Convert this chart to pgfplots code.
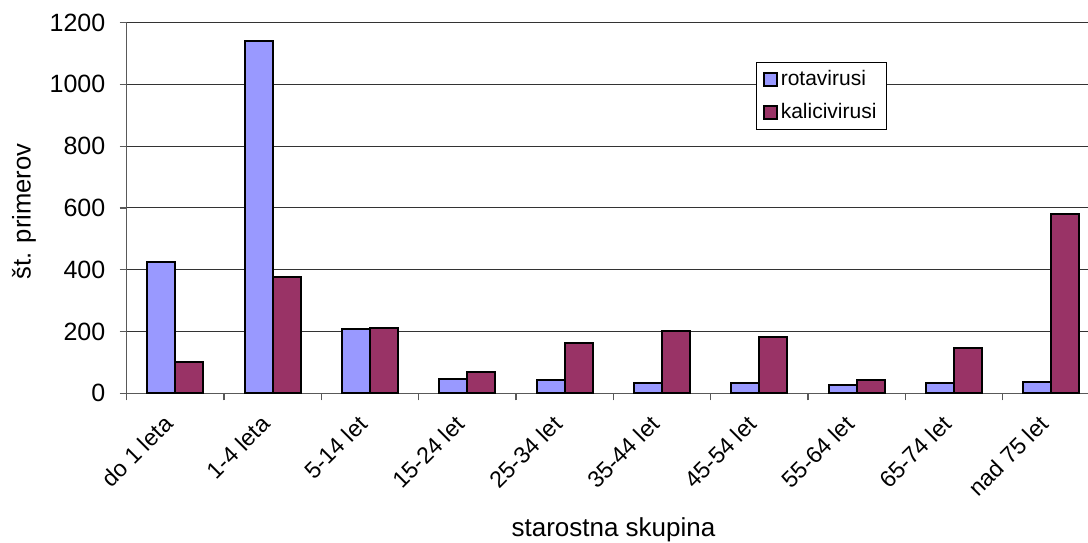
\documentclass[border=0pt]{standalone}
\usepackage{fontspec}
\setmainfont{Liberation Sans}
\usepackage{pgfplots}
\pgfplotsset{compat=1.18}
\definecolor{rota}{HTML}{9999FF}
\definecolor{kali}{HTML}{993366}
\begin{document}
\begin{tikzpicture}
\begin{axis}[
  at={(0,0)}, anchor=south west,
  scale only axis, width=480.65pt, height=185.4pt,
  xmin=-0.5, xmax=9.376, ymin=0, ymax=1200,
  ybar=0pt, bar width=14pt,
  legend image code/.code={\draw[#1, line width=0.8pt] (0pt,-3.25pt) rectangle (6.5pt,3.25pt);},
  axis x line*=bottom, axis y line*=left,
  axis line style={-, gray!70!black, line width=0.6pt},
  xtick={0,...,9},
  xticklabels={do 1 leta, 1-4 leta, 5-14 let, 15-24 let, 25-34 let, 35-44 let, 45-54 let, 55-64 let, 65-74 let, nad 75 let},
  minor xtick={-0.5,0.5,...,8.5},
  ytick={0,200,...,1200},
  tick align=outside,
  major tick length=3.5pt, minor tick length=3.5pt,
  major x tick style={draw=none},
  minor x tick style={gray!70!black, line width=0.6pt},
  y tick style={gray!70!black, line width=0.6pt},
  ymajorgrids, grid style={black!80, line width=0.5pt},
  /pgf/number format/assume math mode=true,
  /pgf/number format/1000 sep={},
  yticklabel style={font=\fontsize{12.5}{14}\selectfont, anchor=east, inner sep=0pt},
  yticklabel shift=7pt,
  xticklabel style={font=\fontsize{11.6}{13}\selectfont, xshift=-6.5pt, rotate=45, anchor=north east, inner sep=0pt},
  xticklabel shift=6.5pt,
  xlabel={starostna skupina},
  ylabel={št. primerov},
  every axis x label/.style={at={(axis description cs:0.5064,-0.3849)}, anchor=base, font=\fontsize{13}{15}\selectfont},
  every axis y label/.style={at={(axis description cs:-0.1068,0.4903)}, anchor=center, rotate=90, font=\fontsize{12.8}{15}\selectfont},
  legend style={at={(axis description cs:0.6546,0.8927)}, anchor=north west,
    font=\fontsize{10.5}{12}\selectfont, draw=black, line width=0.5pt, fill=white,
    inner xsep=3.35pt, inner ysep=1.75pt, row sep=3pt,
    nodes={inner sep=1.5pt, text height=8pt, text depth=2.5pt}},
  legend cell align=left,
]
\addplot[fill=rota, draw=black, line width=1pt] coordinates {
 (0,425) (1,1140) (2,209) (3,47) (4,44) (5,34) (6,34) (7,27) (8,34) (9,36)};
\addplot[fill=kali, draw=black, line width=1pt] coordinates {
 (0,100) (1,377) (2,211) (3,68) (4,164) (5,202) (6,181) (7,44) (8,145) (9,580)};
\legend{rotavirusi, kalicivirusi}
\end{axis}
\pgfresetboundingbox
\path[use as bounding box] (-63.35pt,-74.35pt) rectangle (480.65pt,196.65pt);
\end{tikzpicture}
\end{document}
